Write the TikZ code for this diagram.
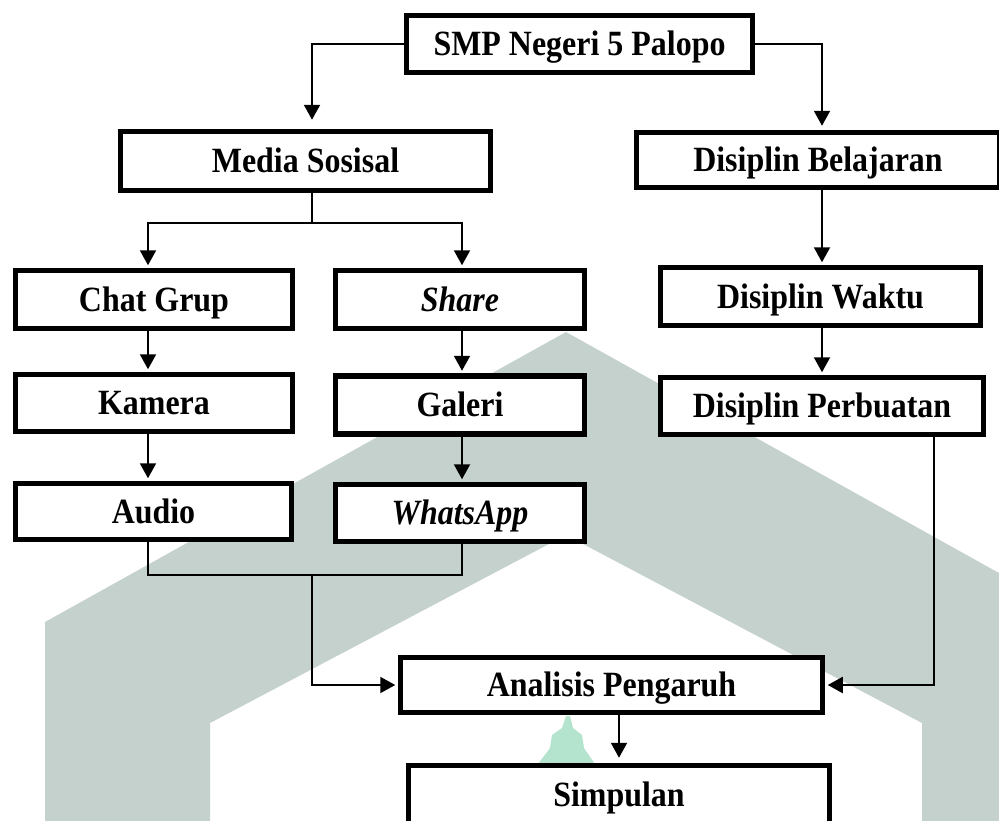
\documentclass[tikz,border=0pt]{standalone}
\usepackage{fontspec}
\setmainfont{Liberation Serif}[FakeStretch=0.9]
\usetikzlibrary{arrows.meta}
\definecolor{wm}{RGB}{197,209,205}
\definecolor{wmg}{RGB}{180,228,205}
\begin{document}
\begin{tikzpicture}[x=1pt,y=-1pt,
  box/.style={draw,fill=white,line width=5.5pt,inner sep=0pt,
    font=\fontsize{35.5}{42}\selectfont\bfseries,text height=23.5pt,text depth=0pt},
  con/.style={line width=2pt},
  arr/.style={con,-{Triangle[width=16pt,length=15pt]},shorten >=2.5pt}]
\useasboundingbox (0,0) rectangle (999,820);
\clip (0,0) rectangle (999,820);
% watermark
\fill[wm] (45,830) -- (45,622) -- (566,332) -- (1087,622) -- (1087,830) -- (922,830)
  -- (922,723) -- (566,535) -- (210,723) -- (210,830) -- cycle;
\fill[wmg] (566,716) -- (570,716) -- (573,728) -- (582,735) -- (584,748) -- (595,764)
  -- (538,764) -- (550,748) -- (552,735) -- (562,728) -- cycle;
% boxes
\node[box,minimum width=346pt,minimum height=57pt] (smp) at (579.5,44) {SMP Negeri 5 Palopo};
\node[box,minimum width=370pt,minimum height=59pt] (media) at (305.5,161) {Media Sosisal};
\node[box,minimum width=363pt,minimum height=55pt] (belajar) at (818,160) {Disiplin Belajaran};
\node[box,minimum width=277pt,minimum height=58pt] (chat) at (154,299.5) {Chat Grup};
\node[box,minimum width=249pt,minimum height=58pt] (share) at (460,299.5) {\textit{Share}};
\node[box,minimum width=320pt,minimum height=58pt] (waktu) at (820.5,296.5) {Disiplin Waktu};
\node[box,minimum width=277pt,minimum height=57pt] (kamera) at (154,403) {Kamera};
\node[box,minimum width=249pt,minimum height=58pt] (galeri) at (460,405) {Galeri};
\node[box,minimum width=323pt,minimum height=57pt] (perbuatan) at (822,406) {Disiplin Perbuatan};
\node[box,minimum width=276pt,minimum height=56pt] (audio) at (153.5,511.5) {Audio};
\node[box,minimum width=249pt,minimum height=57pt] (wa) at (460,513) {\textit{WhatsApp}};
\node[box,minimum width=422pt,minimum height=55pt] (analisis) at (611.5,685) {Analisis Pengaruh};
\node[box,minimum width=421pt,minimum height=58pt] (simpulan) at (619,794.5) {Simpulan};
% lanes
\coordinate (laneM) at (312,0);
\coordinate (laneR) at (822,0);
\coordinate (laneA) at (148,0);
\coordinate (laneS) at (462,0);
\coordinate (laneP) at (934,0);
\coordinate (laneAS) at (619,0);
\coordinate (split) at (312,223);
\coordinate (join) at (312,575);
% connectors
\draw[arr,shorten >=9pt] (smp.west) -| (media.north -| laneM);
\draw[arr,shorten >=4pt] (smp.east) -| (belajar.north -| laneR);
\draw[con] (media.south -| laneM) -- (split);
\draw[arr] (split) -| (chat.north -| laneA);
\draw[arr] (split) -| (share.north -| laneS);
\draw[arr] (chat.south -| laneA) -- (kamera.north -| laneA);
\draw[arr] (kamera.south -| laneA) -- (audio.north -| laneA);
\draw[arr] (share.south -| laneS) -- (galeri.north -| laneS);
\draw[arr] (galeri.south -| laneS) -- (wa.north -| laneS);
\draw[arr] (belajar.south -| laneR) -- (waktu.north -| laneR);
\draw[arr] (waktu.south -| laneR) -- (perbuatan.north -| laneR);
\draw[con] (audio.south -| laneA) |- (join) -| (wa.south -| laneS);
\draw[arr] (join) |- (analisis.west);
\draw[arr] (perbuatan.south -| laneP) |- (analisis.east);
\draw[arr,shorten >=5pt] (analisis.south -| laneAS) -- (simpulan.north -| laneAS);
\end{tikzpicture}
\end{document}
